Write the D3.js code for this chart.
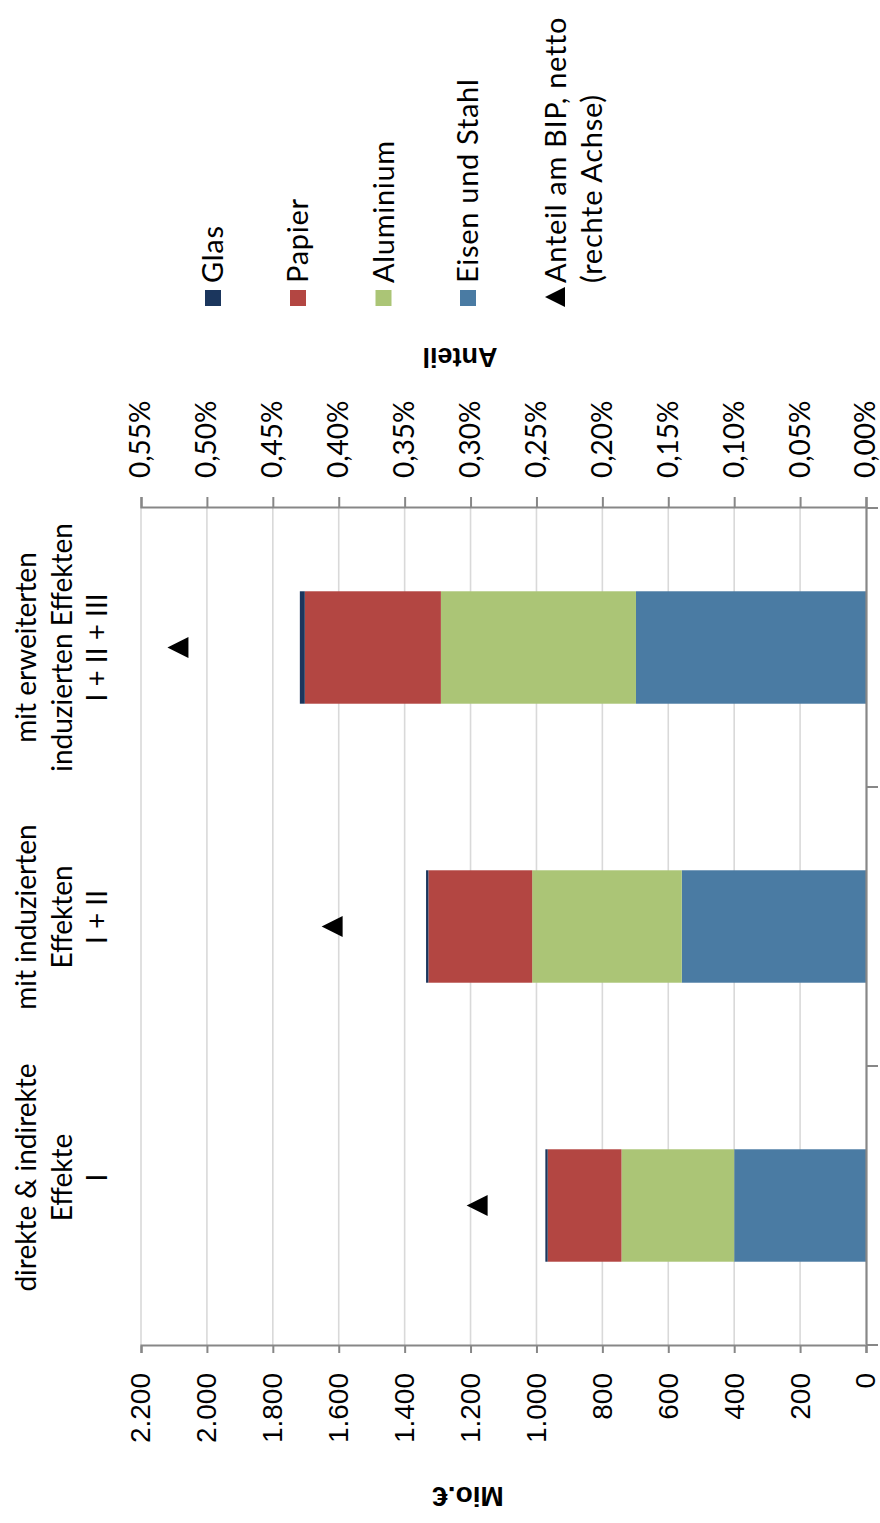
<!DOCTYPE html>
<html>
<head>
<meta charset="utf-8">
<script src="https://cdn.jsdelivr.net/npm/d3@7"></script>
<style>
  html, body { margin: 0; padding: 0; background: #fff; }
  svg { display: block; }
</style>
</head>
<body>
<script>
// Categories (one per bar), each label split into its lines
const categories = ["I", "I + II", "I + II + III"];
const categoryLines = [
  ["direkte & indirekte", "Effekte", "I"],
  ["mit induzierten", "Effekten", "I + II"],
  ["mit erweiterten", "induzierten Effekten", "I + II + III"]
];

// Stacked series, Mio. €
const eisenStahl = [400, 559, 698];
const aluminium  = [342, 454, 592];
const papier     = [224, 315, 413];
const glas       = [7, 7, 15];

// Share of GDP, net, in percent (right axis)
const anteilBIP = [0.295, 0.405, 0.522];

// Axis ticks
const mioTicks = [0, 200, 400, 600, 800, 1000, 1200, 1400, 1600, 1800, 2000, 2200];
const anteilTicks = [0, 0.05, 0.10, 0.15, 0.20, 0.25, 0.30, 0.35, 0.40, 0.45, 0.50, 0.55];

// Legend entries
const seriesNames = ["Glas", "Papier", "Aluminium", "Eisen und Stahl"];
const seriesColors = ["#1B365D", "#B34642", "#ABC576", "#4A7BA3"];

// ---- layout (chart is drawn upright, then turned a quarter turn) ----
const W = 1523;
const plotLeft = 177, plotRight = 1015, plotTop = 141, plotBottom = 866;
const axisColor = "#878787", gridColor = "#D9D9D9";
const textFont = "Lato, 'Open Sans', sans-serif";
const numFont = "'Liberation Sans', Arial, sans-serif";
// small horizontal nudges of the wrapped category labels
const labelShift = [28, 9.5, 0];

const deLocale = d3.formatLocale({ decimal: ",", thousands: ".", grouping: [3], currency: ["", " €"] });
const fmtMio = deLocale.format(",.0f");
const fmtPct = v => deLocale.format(".2f")(v) + "%";

const table = categories.map((c, i) => ({
  cat: c,
  "Eisen und Stahl": eisenStahl[i],
  "Aluminium": aluminium[i],
  "Papier": papier[i],
  "Glas": glas[i]
}));
const stackKeys = ["Eisen und Stahl", "Aluminium", "Papier", "Glas"];
const color = d3.scaleOrdinal().domain(seriesNames).range(seriesColors);
const stacked = d3.stack().keys(stackKeys)(table);

const x = d3.scaleBand().domain(categories).range([178, plotRight])
  .paddingInner(0.597).paddingOuter(0.597 / 2);
const xBand = d3.scaleBand().domain(categories).range([178, plotRight]).padding(0);
const y = d3.scaleLinear().domain([0, 2200]).range([plotBottom, plotTop]);
const y2 = d3.scaleLinear().domain([0, 0.55]).range([plotBottom, plotTop]);

const svg = d3.select("body").append("svg")
  .attr("width", 880).attr("height", 1523);

const g = svg.append("g").attr("transform", `translate(0,${W}) rotate(-90)`);

// gridlines
g.append("g").selectAll("line").data(mioTicks.filter(t => t > 0)).join("line")
  .attr("x1", plotLeft).attr("x2", plotRight)
  .attr("y1", d => y(d)).attr("y2", d => y(d))
  .attr("stroke", gridColor).attr("stroke-width", 1.6);

// stacked bars
g.append("g").selectAll("g").data(stacked).join("g")
  .attr("fill", d => color(d.key))
  .selectAll("rect").data(d => d).join("rect")
  .attr("x", d => x(d.data.cat))
  .attr("width", x.bandwidth())
  .attr("y", d => y(d[1]))
  .attr("height", d => y(d[0]) - y(d[1]));

// left axis (Mio. €)
const axL = g.append("g").attr("transform", `translate(${plotLeft},0)`)
  .call(d3.axisLeft(y).tickValues(mioTicks).tickFormat(fmtMio).tickSize(7).tickPadding(20));
axL.select(".domain").attr("stroke", axisColor).attr("stroke-width", 2.2);
axL.selectAll(".tick line").attr("stroke", axisColor).attr("stroke-width", 2);
axL.selectAll(".tick text").attr("font-family", numFont).attr("font-size", 28).attr("fill", "#000");

// right axis (Anteil)
const axR = g.append("g").attr("transform", `translate(${plotRight},0)`)
  .call(d3.axisRight(y2).tickValues(anteilTicks).tickFormat(fmtPct).tickSize(11).tickPadding(19));
axR.select(".domain").attr("stroke", axisColor).attr("stroke-width", 2.2);
axR.selectAll(".tick line").attr("stroke", axisColor).attr("stroke-width", 2);
axR.selectAll(".tick text").attr("font-family", textFont).attr("font-size", 28).attr("fill", "#000");

// category axis
const axB = g.append("g").attr("transform", `translate(0,${plotBottom})`)
  .call(d3.axisBottom(xBand).tickValues([]).tickSizeOuter(0));
axB.select(".domain").attr("stroke", axisColor).attr("stroke-width", 2.2);
const bounds = categories.map(c => xBand(c)).concat([xBand(categories[categories.length - 1]) + xBand.bandwidth()]);
g.append("g").selectAll("line").data(bounds).join("line")
  .attr("x1", d => d).attr("x2", d => d)
  .attr("y1", plotBottom).attr("y2", plotBottom + 12)
  .attr("stroke", axisColor).attr("stroke-width", 2);

// category labels, above the plot
const lineYs = [26, 62, 97];
categoryLines.forEach((lines, i) => {
  const cx = xBand(categories[i]) + xBand.bandwidth() / 2 + labelShift[i];
  const t = g.append("text")
    .attr("font-family", textFont).attr("font-size", 28).attr("fill", "#000")
    .attr("text-anchor", "middle");
  lines.forEach((ln, j) => {
    t.append("tspan").attr("x", cx).attr("y", lineYs[j] + 10).text(ln);
  });
});

// share of GDP markers
const tri = s => `M0,${-s}L${s},${s}L${-s},${s}Z`;
g.append("g").selectAll("path").data(anteilBIP).join("path")
  .attr("d", tri(10.5))
  .attr("transform", (d, i) => `translate(${xBand(categories[i]) + xBand.bandwidth() / 2},${y2(d)})`)
  .attr("fill", "#000");

// axis titles
g.append("text")
  .attr("transform", `translate(36,468) rotate(-90)`)
  .attr("text-anchor", "middle")
  .attr("font-family", numFont).attr("font-weight", "bold").attr("font-size", 28)
  .attr("fill", "#000").text("Mio.€");
g.append("text")
  .attr("transform", `translate(1175,460) rotate(-90)`)
  .attr("text-anchor", "middle")
  .attr("font-family", numFont).attr("font-weight", "bold").attr("font-size", 27)
  .attr("fill", "#000").text("Anteil");

// legend
const legendY = [213, 298, 383.5, 468];
const lg = g.append("g");
seriesNames.forEach((name, i) => {
  lg.append("rect").attr("x", 1217).attr("y", legendY[i] - 8)
    .attr("width", 16).attr("height", 16).attr("fill", color(name));
  lg.append("text").attr("x", 1240).attr("y", legendY[i] + 10)
    .attr("font-family", textFont).attr("font-size", 29).attr("letter-spacing", 0.7)
    .attr("fill", "#000").text(name);
});
lg.append("path").attr("d", tri(10))
  .attr("transform", "translate(1226,555)").attr("fill", "#000");
const lt = lg.append("text").attr("font-family", textFont).attr("font-size", 29)
  .attr("letter-spacing", 0.7).attr("fill", "#000");
lt.append("tspan").attr("x", 1240).attr("y", 566).text("Anteil am BIP, netto");
lt.append("tspan").attr("x", 1240).attr("y", 602).text("(rechte Achse)");
</script>
</body>
</html>
